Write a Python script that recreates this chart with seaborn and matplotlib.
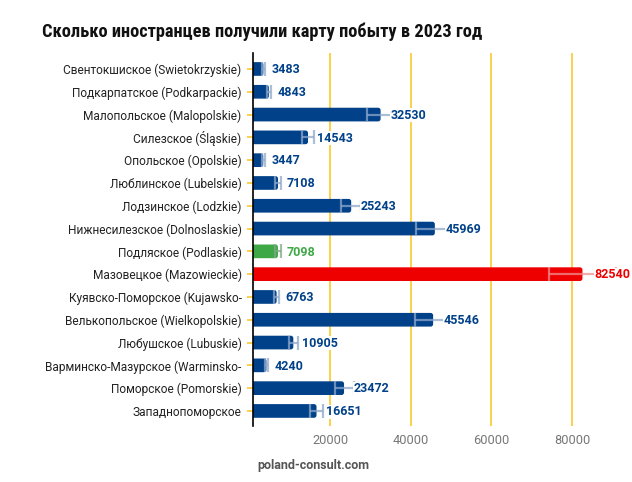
import matplotlib
matplotlib.use("Agg")
import matplotlib.pyplot as plt
from matplotlib import font_manager
import seaborn as sns
import pandas as pd
import numpy as np
from matplotlib.patches import FancyBboxPatch

regions = [
    "Свентокшиское (Swietokrzyskie)",
    "Подкарпатское (Podkarpackie)",
    "Малопольское (Malopolskie)",
    "Силезское (Śląskie)",
    "Опольское (Opolskie)",
    "Люблинское (Lubelskie)",
    "Лодзинское (Lodzkie)",
    "Нижнесилезское (Dolnoslaskie)",
    "Подляское (Podlaskie)",
    "Мазовецкое (Mazowieckie)",
    "Куявско-Поморское (Kujawsko-",
    "Велькопольское (Wielkopolskie)",
    "Любушское (Lubuskie)",
    "Варминско-Мазурское (Warminsko-",
    "Поморское (Pomorskie)",
    "Западнопоморское",
]
values = [3483, 4843, 32530, 14543, 3447, 7108, 25243, 45969,
          7098, 82540, 6763, 45546, 10905, 4240, 23472, 16651]
BLUE, GREEN, RED = "#004189", "#3ea846", "#ee0000"
bar_colors = [BLUE] * 8 + [GREEN, RED] + [BLUE] * 6
err_colors = ["#8fa8cc"] * 8 + ["#7fa886", "#f08f8f"] + ["#8fa8cc"] * 6

df = pd.DataFrame({"region": regions, "value": values})

sns.set_theme(style="white")
plt.rcParams["font.family"] = ["Roboto", "DejaVu Sans"]

names = {f.name for f in font_manager.fontManager.ttflist}
title_font, title_size = "Roboto", 11.8
for cand in ["Roboto Condensed", "Liberation Sans Narrow"]:
    if cand in names:
        title_font, title_size = cand, 13.2
        break

fig = plt.figure(figsize=(6.32, 4.82), dpi=100)
ax = fig.add_axes([0.4008, 0.1162, 0.982 - 0.4008, 0.890 - 0.1162])

sns.barplot(data=df, y="region", x="value", hue="region",
            palette=dict(zip(regions, bar_colors)), legend=False,
            orient="h", width=0.6, ax=ax, saturation=1)

ax.set_xlim(990, 92000)
ax.set_ylim(15.66, -0.70)

# rounded bars
px_x = (ax.get_xlim()[1] - ax.get_xlim()[0]) / (0.982 - 0.4008) / 632
px_y = (ax.get_ylim()[0] - ax.get_ylim()[1]) / (0.890 - 0.1162) / 482
for p in list(ax.patches):
    x0, y0, w, h = p.get_x(), p.get_y(), p.get_width(), p.get_height()
    fc = p.get_facecolor()
    p.remove()
    fb = FancyBboxPatch((x0, y0), w, h,
                        boxstyle=f"round,pad=0,rounding_size={2.5 * px_x}",
                        mutation_aspect=px_y / px_x,
                        fc=fc, ec="none", zorder=2)
    ax.add_patch(fb)

# error bars (±10%) and value labels
for i, (v, bc, ec) in enumerate(zip(values, bar_colors, err_colors)):
    ax.errorbar(v, i, xerr=0.1 * v, fmt="none", ecolor=ec, elinewidth=1.6,
                capsize=5, capthick=1.6, alpha=0.75, zorder=3)
    ax.annotate(f"{v}", xy=(v * 1.012, i), xytext=(6.0, -0.5),
                textcoords="offset points", va="center", ha="left",
                fontsize=9.0, fontweight="bold", color=bc, zorder=4,
                annotation_clip=False,
                bbox=dict(boxstyle="square,pad=0.05", fc="white", ec="none"))

ax.set_xticks([20000, 40000, 60000, 80000])
ax.set_xticklabels(["20000", "40000", "60000", "80000"])
ax.xaxis.grid(True, color="#fcc419", linewidth=1.1)
ax.set_axisbelow(True)
ax.tick_params(axis="x", length=0, pad=6, labelsize=9.2, labelcolor="#777777")
ax.tick_params(axis="y", length=8, width=1.1, direction="inout", color="#fcc419",
               pad=4.5, labelsize=8.55, labelcolor="#222222", left=True)
ax.set_xlabel("")
ax.set_ylabel("")
for s in ["top", "right", "bottom"]:
    ax.spines[s].set_visible(False)
ax.spines["left"].set_color("black")
ax.spines["left"].set_linewidth(1.2)

fig.text(0.414, 0.934, "Сколько иностранцев получили карту побыту в 2023 год",
         ha="center", va="center", fontsize=title_size, fontweight="bold",
         color="#111111", family=[title_font, "DejaVu Sans"])
fig.text(0.408, 0.035, "poland-consult.com", ha="left", va="center",
         fontsize=9, fontweight="bold", color="#555555")

fig.savefig("out.png", dpi=100)
